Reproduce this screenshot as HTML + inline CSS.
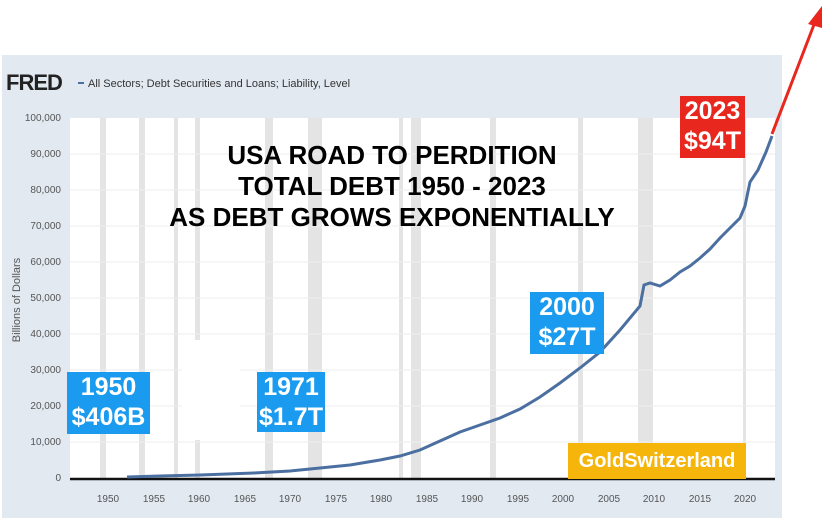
<!DOCTYPE html><html><head><style>
body{margin:0;width:834px;height:522px;background:#fff;overflow:hidden;position:relative;font-family:"Liberation Sans",sans-serif}
.b{position:absolute;color:#fff;font-weight:bold;text-align:center;line-height:30px;font-size:25px}
</style></head><body>
<svg width="834" height="522" style="position:absolute;left:0;top:0">
<rect x="2" y="55" width="780" height="463" fill="#e2e9f1"/>
<rect x="70" y="118" width="705" height="362" fill="#fff"/>
<g fill="#e4e4e4">
<rect x="100" y="118" width="6" height="362"/><rect x="139" y="118" width="6" height="362"/>
<rect x="174" y="118" width="4" height="362"/><rect x="195" y="118" width="5" height="362"/>
<rect x="265" y="118" width="8" height="362"/><rect x="308" y="118" width="14" height="362"/>
<rect x="399" y="118" width="4" height="362"/><rect x="411" y="118" width="10" height="362"/>
<rect x="490" y="118" width="6" height="362"/><rect x="578" y="118" width="5" height="362"/>
<rect x="638" y="118" width="15" height="362"/><rect x="743" y="118" width="3" height="362"/>
</g>
<g stroke="#eee" stroke-width="1">
<line x1="70" x2="775" y1="154" y2="154"/><line x1="70" x2="775" y1="190" y2="190"/><line x1="70" x2="775" y1="226" y2="226"/><line x1="70" x2="775" y1="262" y2="262"/><line x1="70" x2="775" y1="298" y2="298"/><line x1="70" x2="775" y1="334" y2="334"/><line x1="70" x2="775" y1="370" y2="370"/><line x1="70" x2="775" y1="406" y2="406"/><line x1="70" x2="775" y1="442" y2="442"/>
</g>
<rect x="182" y="340" width="58" height="100" fill="#fff"/>
<line x1="70" x2="775" y1="479" y2="479" stroke="#111" stroke-width="2.5"/>
<polyline fill="none" stroke="#4a6fa0" stroke-width="3" points="127,477 160,476 200,475 254,473 290,471 320,468 350,465 380,460 400,456 420,450 440,441 460,432 480,425 500,418 520,409 540,397 560,383 580,368 600,352 620,330 640,306 644,285 650,283 660,286 670,280 680,272 690,266 700,258 710,249 720,238 730,228 740,218 745,206 750,182 758,170 766,152 772,136"/>
<line x1="772" y1="134" x2="815" y2="22" stroke="#e8281e" stroke-width="3"/>
<polygon points="822,6 808,24 822,28" fill="#e8281e"/>
<g font-size="10" fill="#555" text-anchor="end">
<text x="61" y="121">100,000</text><text x="61" y="157">90,000</text><text x="61" y="193">80,000</text><text x="61" y="229">70,000</text><text x="61" y="265">60,000</text><text x="61" y="301">50,000</text><text x="61" y="337">40,000</text><text x="61" y="373">30,000</text><text x="61" y="409">20,000</text><text x="61" y="445">10,000</text><text x="61" y="481">0</text>
</g>
<g font-size="10" fill="#555" text-anchor="middle">
<text x="108" y="502">1950</text><text x="154" y="502">1955</text><text x="199" y="502">1960</text><text x="245" y="502">1965</text><text x="290" y="502">1970</text><text x="336" y="502">1975</text><text x="381" y="502">1980</text><text x="427" y="502">1985</text><text x="472" y="502">1990</text><text x="518" y="502">1995</text><text x="563" y="502">2000</text><text x="609" y="502">2005</text><text x="654" y="502">2010</text><text x="700" y="502">2015</text><text x="745" y="502">2020</text>
</g>
<text x="20" y="300" font-size="11" fill="#555" transform="rotate(-90 20 300)" text-anchor="middle">Billions of Dollars</text>
<text x="6" y="90" font-size="22" font-weight="bold" fill="#222" letter-spacing="-1">FRED</text>
<line x1="78" x2="84" y1="83" y2="83" stroke="#4a6fa0" stroke-width="2"/>
<text x="88" y="87" font-size="11" fill="#333">All Sectors; Debt Securities and Loans; Liability, Level</text>
<g font-size="26" font-weight="bold" fill="#000" text-anchor="middle">
<text x="392" y="164">USA ROAD TO PERDITION</text>
<text x="392" y="195">TOTAL DEBT 1950 - 2023</text>
<text x="392" y="226">AS DEBT GROWS EXPONENTIALLY</text>
</g>
</svg>
<div class="b" style="left:67px;top:372px;width:83px;height:62px;background:#1a9bef">1950<br>$406B</div>
<div class="b" style="left:257px;top:372px;width:68px;height:60px;background:#1a9bef">1971<br>$1.7T</div>
<div class="b" style="left:530px;top:292px;width:74px;height:62px;background:#1a9bef">2000<br>$27T</div>
<div class="b" style="left:680px;top:96px;width:65px;height:62px;background:#e8281e">2023<br>$94T</div>
<div class="b" style="left:568px;top:443px;width:178px;height:36px;line-height:36px;font-size:20px;background:#f5b50a">GoldSwitzerland</div>
</body></html>
